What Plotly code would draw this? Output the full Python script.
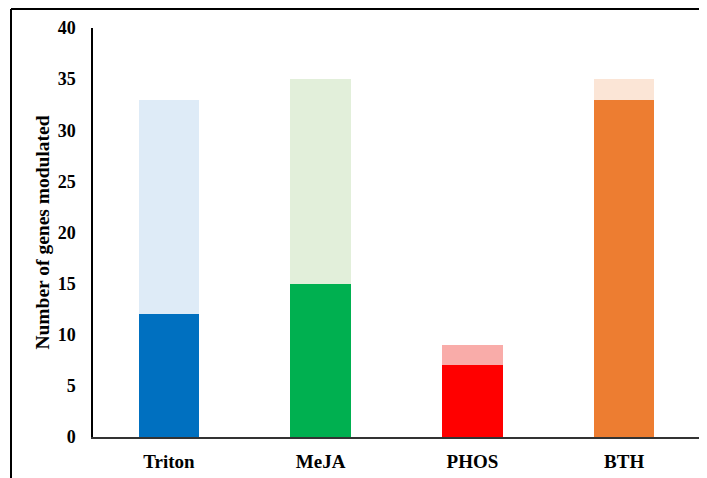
import plotly.graph_objects as go

categories = ["Triton", "MeJA", "PHOS", "BTH"]
bottom_values = [12, 15, 7, 33]
top_values = [21, 20, 2, 2]
dark_colors = ["#0070C0", "#00B050", "#FF0000", "#ED7D31"]
light_colors = ["#DEEBF7", "#E2EFDA", "#F9ACA9", "#FBE5D6"]
y_ticks = [0, 5, 10, 15, 20, 25, 30, 35, 40]

font_family = "Liberation Serif, Times New Roman, serif"

fig = go.Figure()
fig.add_trace(go.Bar(x=categories, y=bottom_values, marker=dict(color=dark_colors, line=dict(width=0)),
                     width=0.4, showlegend=False))
fig.add_trace(go.Bar(x=categories, y=top_values, marker=dict(color=light_colors, line=dict(width=0)),
                     width=0.4, showlegend=False))

# page has an 8px body offset, so the figure is laid out 8px smaller
L, R, T, B = 85, 7, 20, 41
W, H = 699, 470
pw = W - L - R
ph = H - T - B

fig.update_layout(
    barmode="stack",
    width=W, height=H,
    margin=dict(l=L, r=R, t=T, b=B, pad=0, autoexpand=False),
    plot_bgcolor="white", paper_bgcolor="white",
    font=dict(family=font_family, color="black"),
    xaxis=dict(showline=True, linecolor="#333333", linewidth=2, showgrid=False, automargin=False,
               tickfont=dict(size=19, family=font_family, weight="bold"),
               ticks="outside", ticklen=6, tickcolor="rgba(0,0,0,0)"),
    yaxis=dict(range=[0, 40], tickvals=y_ticks, showline=True, linecolor="black", linewidth=1.5,
               showgrid=False, zeroline=False, automargin=False,
               tickfont=dict(size=18, family=font_family, weight="bold"),
               ticks="outside", ticklen=12, tickcolor="rgba(0,0,0,0)",
               title=dict(text="Number of genes modulated", standoff=3,
                          font=dict(size=19.5, family=font_family, weight="bold"))),
)

x0 = (3 - L) / pw
y1 = (H - B - 1) / ph
fig.add_shape(type="line", xref="paper", yref="paper", x0=x0, x1=x0, y0=-0.2, y1=y1,
              line=dict(color="black", width=2))
fig.add_shape(type="line", xref="paper", yref="paper", x0=x0, x1=1.2, y0=y1, y1=y1,
              line=dict(color="black", width=2))

fig.write_html("out.html")
